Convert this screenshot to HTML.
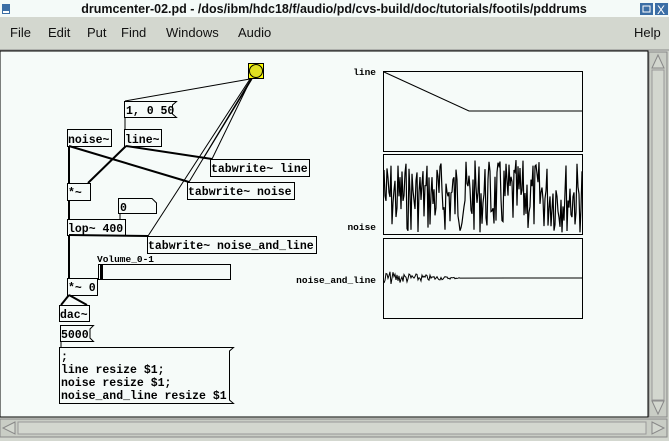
<!DOCTYPE html>
<html><head><meta charset="utf-8"><style>
body{margin:0;width:669px;height:441px;overflow:hidden;background:#d3d7cf;font-family:"Liberation Sans",sans-serif}
svg{display:block}
.m{font-family:"Liberation Mono",monospace;font-weight:bold;font-size:11.5px}
.s{font-family:"Liberation Mono",monospace;font-weight:bold;font-size:9.5px}
</style></head><body>
<svg width="669" height="441" xmlns="http://www.w3.org/2000/svg">
<rect x="0" y="0" width="669" height="17" fill="#f4faf8"/>
<rect x="2" y="4" width="8" height="10" fill="#3b6ea5"/><rect x="3" y="11" width="6" height="2" fill="#fff"/>
<text x="334" y="13" font-size="12.5" font-weight="bold" text-anchor="middle" fill="#111">drumcenter-02.pd  - /dos/ibm/hdc18/f/audio/pd/cvs-build/doc/tutorials/footils/pddrums</text>
<rect x="640" y="3" width="13" height="12" fill="#3b6ea5"/><rect x="643" y="6" width="7" height="6" fill="none" stroke="#fff"/>
<rect x="655" y="3" width="13" height="12" fill="#3b6ea5"/><text x="661" y="14" font-size="12" fill="#fff" text-anchor="middle">X</text>
<rect x="0" y="17" width="669" height="33" fill="#d3d7cf"/>
<g font-size="13" fill="#111"><text x="10" y="37">File</text><text x="48" y="37">Edit</text><text x="87" y="37">Put</text><text x="121" y="37">Find</text><text x="166" y="37">Windows</text><text x="238" y="37">Audio</text><text x="634" y="37">Help</text></g>
<line x1="0" y1="50" x2="669" y2="50" stroke="#888"/>
<rect x="0" y="51" width="648" height="366" fill="#f6fbf9" stroke="#000"/>
<rect x="649" y="52" width="18" height="365" fill="#c9cdc5" stroke="#888"/>
<rect x="652" y="70" width="12" height="330" fill="#d3d7cf" stroke="#999"/>
<path d="M652 68 L658 55 L664 68Z" fill="#d3d7cf" stroke="#888"/>
<path d="M652 401 L658 414 L664 401Z" fill="#d3d7cf" stroke="#888"/>
<rect x="0" y="419" width="667" height="18" fill="#c9cdc5" stroke="#888"/>
<rect x="18" y="422" width="628" height="12" fill="#d3d7cf" stroke="#999"/>
<path d="M15 422 L3 428 L15 434Z" fill="#d3d7cf" stroke="#888"/>
<path d="M652 422 L664 428 L652 434Z" fill="#d3d7cf" stroke="#888"/>

<g stroke="#000" fill="none">
<line x1="250" y1="79" x2="125" y2="101"/>
<line x1="251" y1="79" x2="212" y2="159"/>
<line x1="252" y1="79" x2="203" y2="159"/>
<line x1="251" y1="79" x2="189" y2="182"/>
<line x1="250" y1="79" x2="148" y2="236"/>
<line x1="125" y1="117" x2="125" y2="129"/>
<line x1="120" y1="213" x2="120" y2="219"/>
<line x1="61" y1="341" x2="61" y2="347"/>
<g stroke-width="2">
<line x1="69" y1="146" x2="69" y2="183"/>
<line x1="69" y1="146" x2="189" y2="182"/>
<line x1="126" y1="146" x2="88" y2="183"/>
<line x1="126" y1="146" x2="212" y2="159"/>
<line x1="69" y1="200" x2="69" y2="219"/>
<line x1="69" y1="235" x2="69" y2="278"/>
<line x1="69" y1="235" x2="148" y2="236"/>
<line x1="69" y1="295" x2="61" y2="305"/>
<line x1="69" y1="295" x2="87" y2="305"/>
</g>
<rect x="248.5" y="63.5" width="15" height="15" fill="#ffff00"/>
<circle cx="256" cy="71" r="6.5" fill="#e0e020"/>
<path d="M124.5 101.5 H176.5 L172.5 105 V114 L176.5 117.5 H124.5Z" fill="#f6fbf9"/>
<rect x="67.5" y="129.5" width="44" height="17"/>
<rect x="124.5" y="129.5" width="37" height="17"/>
<rect x="210.5" y="159.5" width="99" height="17"/>
<rect x="187.5" y="182.5" width="107" height="17"/>
<rect x="67.5" y="183.5" width="23" height="17"/>
<path d="M118.5 198.5 H152 L156.5 203 V213.5 H118.5Z"/>
<rect x="67.5" y="219.5" width="58" height="16"/>
<rect x="147.5" y="236.5" width="169" height="17"/>
<rect x="98.5" y="264.5" width="132" height="15"/>
<rect x="67.5" y="278.5" width="30" height="17"/>
<rect x="59.5" y="305.5" width="30" height="16"/>
<path d="M60.5 325.5 H93.5 L90 329 V338 L93.5 341.5 H60.5Z"/>
<path d="M59.5 347.5 H233.5 L229.5 351 V400 L233.5 403.5 H59.5Z"/>
<rect x="383.5" y="71.5" width="199" height="80"/>
<rect x="383.5" y="154.5" width="199" height="80"/>
<rect x="383.5" y="238.5" width="199" height="80"/>
<polyline points="384,72 469,111 582,111"/>
<path id="nz" stroke-width="1.2"/>
<path id="nl"/>
</g>
<rect x="100" y="265" width="3" height="14" fill="#000"/>
<g class="m" fill="#000">
<text x="126" y="114">1, 0 50</text>
<text x="68" y="143">noise~</text>
<text x="125" y="143">line~</text>
<text x="211" y="172">tabwrite~ line</text>
<text x="188" y="195">tabwrite~ noise</text>
<text x="68" y="196">*~</text>
<text x="120" y="211">0</text>
<text x="68" y="232">lop~ 400</text>
<text x="148" y="249">tabwrite~ noise_and_line</text>
<text x="68" y="291">*~ 0</text>
<text x="60" y="318">dac~</text>
<text x="61" y="338">5000</text>
<text x="61" y="360">;</text>
<text x="61" y="373">line resize $1;</text>
<text x="61" y="386">noise resize $1;</text>
<text x="61" y="399">noise_and_line resize $1</text>
</g>
<g class="s" fill="#000">
<text x="97" y="262">Volume_0-1</text>
<text x="376" y="75" text-anchor="end">line</text>
<text x="376" y="230" text-anchor="end">noise</text>
<text x="376" y="283" text-anchor="end">noise_and_line</text>
</g>
</svg>
<script>
var s=7;function r(){s=(s*9301+49297)%233280;return s/233280;}
var d="M384 170";for(var x=385;x<=582;x++){d+=" L"+x+" "+(160+r()*73).toFixed(1);}
document.getElementById("nz").setAttribute("d",d);
var e="M384 283";for(var x=385;x<=460;x++){var a=7*(1-(x-384)/80);e+=" L"+x+" "+(278+(r()-0.5)*2*a).toFixed(1);}e+=" L582 278";
document.getElementById("nl").setAttribute("d",e);
</script>
</body></html>
